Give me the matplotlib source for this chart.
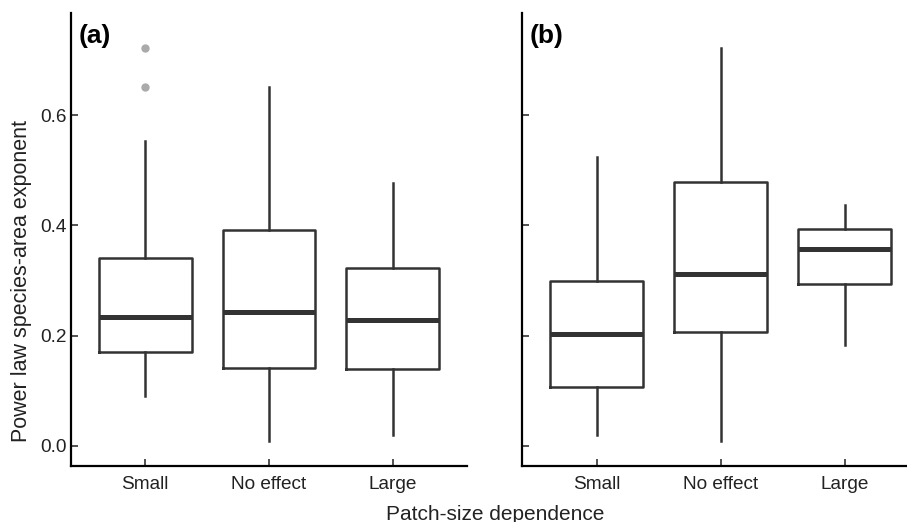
import matplotlib.pyplot as plt

# Box statistics: (whislo, q1, median, q3, whishi)
groups = ['Small', 'No effect', 'Large']

a_lo = [0.091, 0.009, 0.020]
a_q1 = [0.170, 0.141, 0.139]
a_med = [0.234, 0.243, 0.228]
a_q3 = [0.341, 0.391, 0.322]
a_hi = [0.554, 0.651, 0.478]
a_fliers = [[0.723, 0.651], [], []]

b_lo = [0.019, 0.009, 0.183]
b_q1 = [0.107, 0.206, 0.293]
b_med = [0.203, 0.312, 0.357]
b_q3 = [0.299, 0.479, 0.393]
b_hi = [0.525, 0.722, 0.438]
b_fliers = [[], [], []]

yticks = [0.0, 0.2, 0.4, 0.6]

plt.rcParams['font.family'] = ['Liberation Sans', 'DejaVu Sans']

LINE = '#333333'


def make_stats(lo, q1, med, q3, hi, fliers):
    stats = []
    for i in range(len(groups)):
        stats.append({'whislo': lo[i], 'q1': q1[i], 'med': med[i], 'q3': q3[i],
                      'whishi': hi[i], 'fliers': fliers[i], 'label': groups[i]})
    return stats


def draw_panel(ax, stats, tag, show_labels):
    ax.bxp(stats, positions=[1, 2, 3], widths=0.75, showcaps=False,
           boxprops=dict(color=LINE, linewidth=1.8),
           whiskerprops=dict(color=LINE, linewidth=1.8),
           medianprops=dict(color=LINE, linewidth=3.6, solid_capstyle='butt'),
           flierprops=dict(marker='o', markerfacecolor='#aaaaaa',
                           markeredgecolor='#aaaaaa', markersize=5))
    ax.set_xlim(0.4, 3.6 if tag == '(a)' else 3.5)
    ax.set_ylim(-0.037, 0.786)
    ax.set_yticks(yticks)
    if show_labels:
        ax.set_yticklabels([f'{v:.1f}' for v in yticks])
    else:
        ax.set_yticklabels([])
    ax.set_xticks([1, 2, 3])
    ax.set_xticklabels(groups)
    for s in ['top', 'right']:
        ax.spines[s].set_visible(False)
    for s in ['left', 'bottom']:
        ax.spines[s].set_linewidth(1.6)
        ax.spines[s].set_color('black')
    ax.tick_params(axis='both', direction='in', length=5, width=1.2, color=LINE,
                   labelcolor='#222222', labelsize=13.7)
    ax.tick_params(axis='y', pad=3)
    ax.tick_params(axis='x', pad=7)
    ax.text(0.02, 0.975, tag, transform=ax.transAxes, fontsize=19,
            fontweight='bold', va='top', ha='left')


W, H = 907, 522
fig = plt.figure(figsize=(W / 100, H / 100), dpi=100)
ax_a = fig.add_axes([71 / W, (H - 466) / H, (467 - 71) / W, (466 - 13) / H])
ax_b = fig.add_axes([522 / W, (H - 466) / H, (907 - 522) / W, (466 - 13) / H])

draw_panel(ax_a, make_stats(a_lo, a_q1, a_med, a_q3, a_hi, a_fliers), '(a)', True)
draw_panel(ax_b, make_stats(b_lo, b_q1, b_med, b_q3, b_hi, b_fliers), '(b)', False)

fig.text(22 / W, 1 - 281 / H, 'Power law species-area exponent', rotation=90,
         ha='center', va='center', fontsize=15.5, color='#222222')
fig.text(495 / W, 1 - 514 / H, 'Patch-size dependence', ha='center',
         va='center', fontsize=15, color='#222222')

fig.savefig('out.png', dpi=100)
